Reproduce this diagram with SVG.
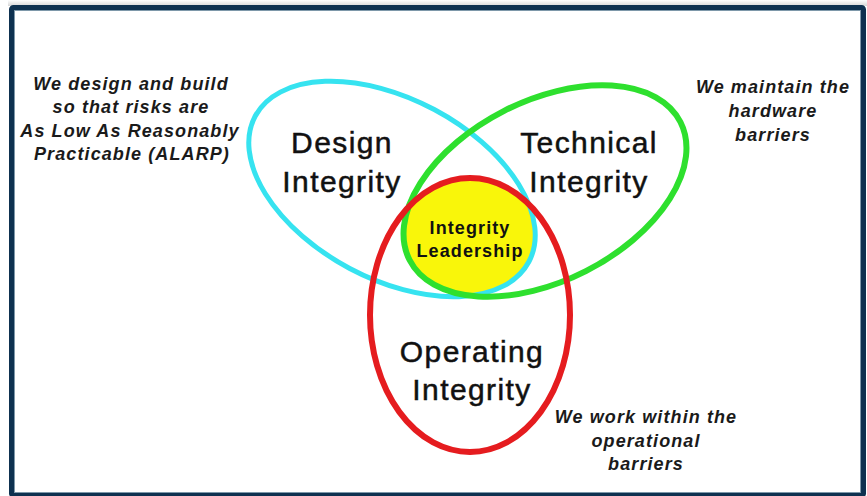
<svg xmlns="http://www.w3.org/2000/svg" width="867" height="496" viewBox="0 0 867 496">
  <style>
    .big { font-family: "Liberation Sans", Arial, sans-serif; font-size: 30px; fill: #111; stroke: #111; stroke-width: 0.5px; text-anchor: middle; letter-spacing: 1.4px; }
    .core { font-family: "Liberation Sans", Arial, sans-serif; font-size: 18px; font-weight: bold; fill: #111; text-anchor: middle; letter-spacing: 1.1px; }
    .note { font-family: "Liberation Sans", Arial, sans-serif; font-size: 18px; font-weight: bold; font-style: italic; fill: #1a1a1a; text-anchor: middle; letter-spacing: 1.1px; }
    .ring { fill: none; }
  </style>
  <defs>
    <linearGradient id="shadow" x1="0" y1="0" x2="0" y2="1">
      <stop offset="0" stop-color="#ffffff"/>
      <stop offset="1" stop-color="#d6d6d6"/>
    </linearGradient>
    <clipPath id="clipCyan">
      <ellipse cx="392" cy="189" rx="155" ry="90" transform="rotate(28 392 189)"/>
    </clipPath>
    <clipPath id="clipGreen">
      <ellipse cx="545" cy="191" rx="152" ry="90" transform="rotate(-27 545 191)"/>
    </clipPath>
  </defs>

  <rect x="0" y="0" width="867" height="496" fill="#ffffff"/>
  <rect x="8" y="0" width="859" height="6" fill="url(#shadow)"/>
  <g id="frame">
    <rect x="11.5" y="7.5" width="852" height="488" rx="2" fill="#ffffff" stroke="#0e3150" stroke-width="5"/>
    <rect x="14.5" y="10.5" width="846" height="482" fill="none" stroke="#7e98aa" stroke-width="1"/>
  </g>

  <g id="leadership">
    <g clip-path="url(#clipCyan)">
      <g clip-path="url(#clipGreen)">
        <ellipse cx="470" cy="315" rx="100" ry="137" fill="#f9f60a"/>
      </g>
    </g>
  </g>

  <g id="design">
    <ellipse class="ring" cx="392" cy="189" rx="155" ry="90" transform="rotate(28 392 189)" stroke="#36e3f0" stroke-width="5"/>
  </g>
  <g id="technical">
    <ellipse class="ring" cx="545" cy="191" rx="152" ry="90" transform="rotate(-27 545 191)" stroke="#2ee02e" stroke-width="6"/>
  </g>
  <g id="operating">
    <ellipse class="ring" cx="470" cy="315" rx="100" ry="137" stroke="#e51c1f" stroke-width="6"/>
  </g>

  <g id="connectors"></g>

  <g id="design-label">
    <text class="big" x="342" y="153">Design</text>
    <text class="big" x="342" y="192">Integrity</text>
  </g>
  <g id="technical-label">
    <text class="big" x="589" y="153">Technical</text>
    <text class="big" x="589" y="192">Integrity</text>
  </g>
  <g id="operating-label">
    <text class="big" x="472" y="362">Operating</text>
    <text class="big" x="472" y="400">Integrity</text>
  </g>
  <g id="leadership-label">
    <text class="core" x="470" y="234">Integrity</text>
    <text class="core" x="470" y="257">Leadership</text>
  </g>

  <g id="note-design">
    <text class="note" x="131" y="90">We design and build</text>
    <text class="note" x="131" y="113">so that risks are</text>
    <text class="note" x="130" y="137">As Low As Reasonably</text>
    <text class="note" x="132" y="160">Practicable (ALARP)</text>
  </g>
  <g id="note-technical">
    <text class="note" x="773" y="93">We maintain the</text>
    <text class="note" x="773" y="117">hardware</text>
    <text class="note" x="773" y="141">barriers</text>
  </g>
  <g id="note-operating">
    <text class="note" x="646" y="423">We work within the</text>
    <text class="note" x="646" y="447">operational</text>
    <text class="note" x="646" y="470">barriers</text>
  </g>
</svg>
